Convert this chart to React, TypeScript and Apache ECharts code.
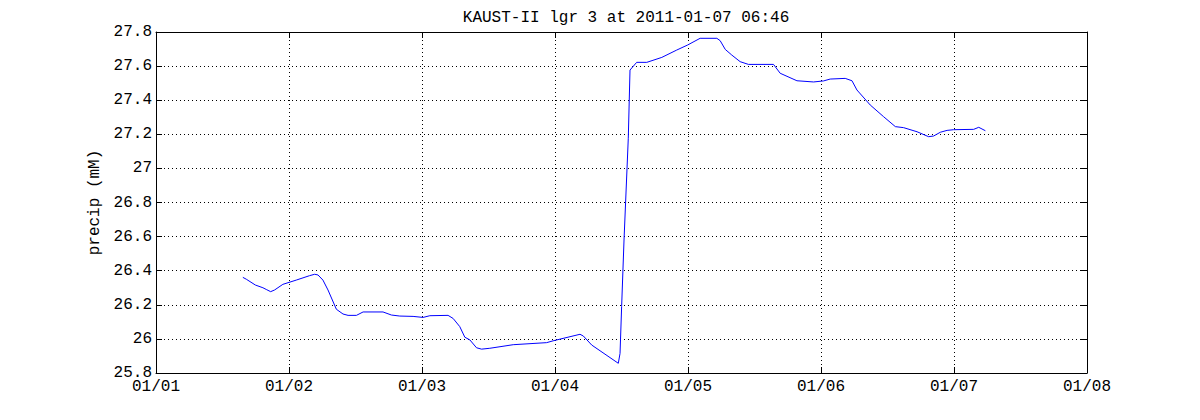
import React, { useEffect, useRef } from "react";
import * as echarts from "echarts";

// Days since 2011-01-01 00:00
const days: number[] = [
  0.653, 0.679, 0.747, 0.804, 0.829, 0.862, 0.892, 0.954, 1.055, 1.155, 1.193, 1.218,
  1.255, 1.293, 1.356, 1.406, 1.444, 1.507, 1.557, 1.707, 1.770, 1.833, 1.933, 2.008,
  2.059, 2.196, 2.234, 2.284, 2.322, 2.360, 2.410, 2.448, 2.510, 2.686, 2.937, 2.992,
  3.188, 3.213, 3.276, 3.476, 3.489, 3.501, 3.519, 3.551, 3.564, 3.614, 3.690, 3.803,
  3.915, 3.998, 4.091, 4.217, 4.242, 4.280, 4.329, 4.392, 4.454, 4.643, 4.693, 4.819,
  4.944, 5.019, 5.069, 5.182, 5.233, 5.270, 5.370, 5.471, 5.559, 5.621, 5.722, 5.809,
  5.847, 5.897, 5.948, 5.997, 6.148, 6.186, 6.236,
];
const precip: number[] = [
  26.361, 26.350, 26.316, 26.300, 26.290, 26.277, 26.287, 26.320, 26.345, 26.371, 26.379, 26.375,
  26.345, 26.287, 26.174, 26.146, 26.138, 26.138, 26.158, 26.158, 26.140, 26.134, 26.132, 26.126,
  26.136, 26.138, 26.120, 26.072, 26.010, 25.994, 25.948, 25.940, 25.945, 25.966, 25.978, 25.990,
  26.027, 26.017, 25.964, 25.857, 25.915, 26.189, 26.580, 27.177, 27.577, 27.622, 27.622, 27.651,
  27.694, 27.724, 27.763, 27.763, 27.749, 27.698, 27.665, 27.626, 27.610, 27.610, 27.558, 27.514,
  27.507, 27.513, 27.524, 27.528, 27.514, 27.460, 27.372, 27.303, 27.245, 27.239, 27.215, 27.186,
  27.190, 27.212, 27.223, 27.227, 27.229, 27.241, 27.221,
];
const xTickLabels: string[] = ["01/01", "01/02", "01/03", "01/04", "01/05", "01/06", "01/07", "01/08"];
const titleText = "KAUST-II lgr 3 at 2011-01-07 06:46";
const yName = "precip (mM)";

const FONT = "Liberation Mono";

export default function App() {
  const ref = useRef<HTMLDivElement>(null);
  useEffect(() => {
    if (!ref.current) return;
    const chart = echarts.init(ref.current, null, { renderer: "svg" });
    const gridLine = { show: true, lineStyle: { color: "#000", type: [1, 3] as any, width: 1 } };
    const txt = { fontFamily: FONT, fontSize: 16, color: "#000" };
    chart.setOption({
      animation: false,
      backgroundColor: "#fff",
      title: {
        text: titleText,
        left: 621,
        top: 5,
        textAlign: "center",
        textStyle: { ...txt, fontWeight: "normal" },
      },
      grid: { left: 156, right: 113, top: 32, bottom: 47, containLabel: false },
      xAxis: [
        {
          type: "value",
          min: 0,
          max: 7,
          interval: 1,
          axisLine: { show: true, onZero: false, lineStyle: { color: "#000", width: 1 } },
          axisTick: { show: true, inside: true, length: 6, lineStyle: { color: "#000" } },
          axisLabel: { ...txt, margin: 6, formatter: (v: number) => xTickLabels[Math.round(v)] ?? "" },
          splitLine: gridLine,
        },
        {
          type: "value",
          position: "top",
          min: 0,
          max: 7,
          interval: 1,
          axisLine: { show: true, onZero: false, lineStyle: { color: "#000", width: 1 } },
          axisTick: { show: true, inside: true, length: 6, lineStyle: { color: "#000" } },
          axisLabel: { show: false },
          splitLine: { show: false },
        },
      ],
      yAxis: [
        {
          type: "value",
          min: 25.8,
          max: 27.8,
          interval: 0.2,
          name: yName,
          nameLocation: "middle",
          nameGap: 40,
          nameRotate: 90,
          nameTextStyle: { ...txt },
          axisLine: { show: true, onZero: false, lineStyle: { color: "#000", width: 1 } },
          axisTick: { show: true, inside: true, length: 6, lineStyle: { color: "#000" } },
          axisLabel: {
            ...txt,
            margin: 4,
            formatter: (v: number) => String(parseFloat(v.toFixed(1))),
          },
          splitLine: gridLine,
        },
        {
          type: "value",
          position: "right",
          min: 25.8,
          max: 27.8,
          interval: 0.2,
          axisLine: { show: true, onZero: false, lineStyle: { color: "#000", width: 1 } },
          axisTick: { show: true, inside: true, length: 6, lineStyle: { color: "#000" } },
          axisLabel: { show: false },
          splitLine: { show: false },
        },
      ],
      series: [
        {
          type: "line",
          xAxisIndex: 0,
          yAxisIndex: 0,
          data: days.map((d, i) => [d, precip[i]]),
          showSymbol: false,
          symbol: "none",
          lineStyle: { color: "#0000ff", width: 1 },
        },
      ],
    });
    return () => chart.dispose();
  }, []);
  return (
    <div
      ref={ref}
      style={{ position: "absolute", left: 0, top: 0, width: 1200, height: 420, background: "#fff" }}
    />
  );
}
